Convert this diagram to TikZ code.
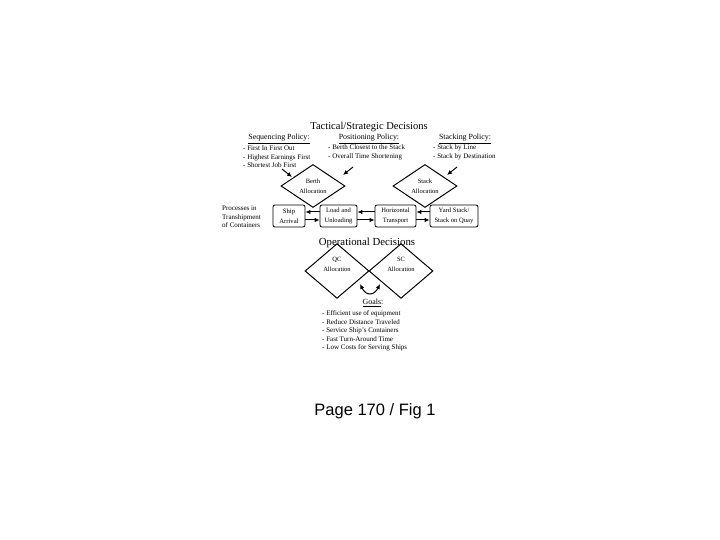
\documentclass[tikz,border=0pt]{standalone}
\usepackage{fontspec}
\setmainfont{Liberation Serif}
\newfontfamily\pagefont{Liberation Sans}
\usetikzlibrary{arrows.meta,shapes.geometric}
\tikzset{
  txt/.style={inner sep=0pt,font=\fontsize{7}{8.6}\selectfont,align=left},
  head/.style={inner sep=0pt,font=\fontsize{7.9}{9}\selectfont},
  decision/.style={draw,diamond,line width=1pt,inner sep=0pt,minimum width=64pt,minimum height=43pt,
    font=\fontsize{6.5}{10}\selectfont,align=center},
  process/.style={draw,rounded corners=2pt,line width=0.8pt,minimum height=22pt,inner sep=0pt,
    font=\fontsize{6.6}{9.5}\selectfont,align=center},
  flow/.style={-{Latex[length=5pt,width=4.5pt]},line width=1pt}
}
\begin{document}
\begin{tikzpicture}[x=1pt,y=-1pt]
\useasboundingbox (0,0) rectangle (720,540);
% tactical / strategic level
\node[inner sep=0pt,font=\fontsize{10.5}{12}\selectfont] (tactical) at (369,127) {Tactical/Strategic Decisions};
\node[head] (seqhead) at (279,139) {\underline{Sequencing Policy:}};
\node[head] (poshead) at (369,139) {\underline{Positioning Policy:}};
\node[head] (stahead) at (465,139) {\underline{Stacking Policy:}};
\node[txt,anchor=west] (seqlist) at (243,157) {- First In First Out\\- Highest Earnings First\\- Shortest Job First};
\node[txt,anchor=west] (poslist) at (328,152.5) {- Berth Closest to the Stack\\- Overall Time Shortening};
\node[txt,anchor=west] (stalist) at (433,152.5) {- Stack by Line\\- Stack by Destination};
\node[decision] (berth) at (313,186) {Berth\\Allocation};
\node[decision] (stack) at (425,186) {Stack\\Allocation};
\coordinate (seqa) at (282,169);
\coordinate (seqb) at (292,177);
\coordinate (posa) at (353,167);
\coordinate (posb) at (343,175);
\coordinate (staa) at (457,167);
\coordinate (stab) at (447,175);
\draw[flow] (seqa) -- (seqb);
\draw[flow] (posa) -- (posb);
\draw[flow] (staa) -- (stab);
% process chain
\node[txt,anchor=west] (processes) at (222,217) {Processes in\\Transhipment\\of Containers};
\node[process,minimum width=32pt] (ship) at (289,216) {Ship\\Arrival};
\node[process,minimum width=37pt] (load) at (338.5,216) {Load and\\Unloading};
\node[process,minimum width=41pt] (horiz) at (395.5,216) {Horizontal\\Transport};
\node[process,minimum width=48pt] (yard) at (454,216) {Yard Stack/\\Stack on Quay};
\foreach \a/\b in {ship/load,load/horiz,horiz/yard}{
  \draw[flow] ([yshift=-4pt]\a.east) -- ([yshift=-4pt]\b.west);
  \draw[flow] ([yshift=4pt]\b.west) -- ([yshift=4pt]\a.east);
}
% operational level
\node[inner sep=0pt,font=\fontsize{10.8}{12}\selectfont] (operational) at (367,243) {Operational Decisions};
\node[decision] (qc) at (337,271) {QC\\Allocation\\[3pt]};
\node[decision] (sc) at (401,271) {SC\\Allocation\\[3pt]};
\coordinate (qcend) at (360,284);
\coordinate (scend) at (380,284);
\draw[{Latex[length=5pt,width=4.5pt]}-{Latex[length=5pt,width=4.5pt]},line width=1pt]
  (qcend) .. controls (366,296) and (374,296) .. (scend);
\node[head] (goals) at (373,303) {\underline{Goals}:};
\node[txt,anchor=west] (goallist) at (322,331) {- Efficient use of equipment\\- Reduce Distance Traveled\\- Service Ship's Containers\\- Fast Turn-Around Time\\- Low Costs for Serving Ships};
\node[inner sep=0pt,font=\pagefont\fontsize{16.5}{18}\selectfont] (page) at (375,411) {Page 170 / Fig 1};
\end{tikzpicture}
\end{document}
